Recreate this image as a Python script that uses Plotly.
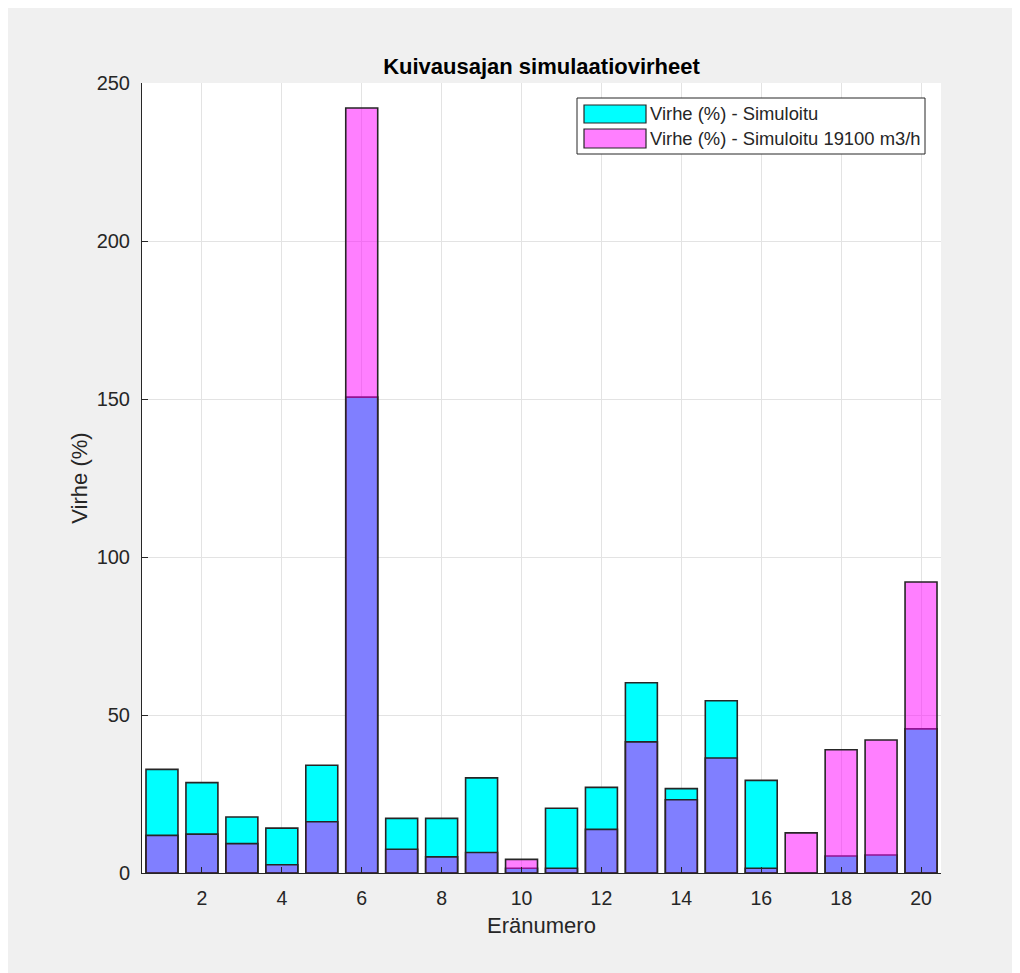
import plotly.graph_objects as go

batches = list(range(1, 21))
err_sim = [32.8, 28.6, 17.7, 14.2, 34.1, 150.6, 17.3, 17.3, 30.1, 1.5,
           20.5, 27.1, 60.2, 26.7, 54.5, 29.3, 0.0, 5.4, 5.7, 45.6]
err_sim_19100 = [11.9, 12.3, 9.3, 2.6, 16.2, 242.1, 7.5, 5.1, 6.5, 4.3,
                 1.5, 13.8, 41.5, 23.2, 36.4, 1.5, 12.7, 39.0, 42.1, 92.1]
x_ticks = [2, 4, 6, 8, 10, 12, 14, 16, 18, 20]
y_ticks = [0, 50, 100, 150, 200, 250]
names = ["Virhe (%) - Simuloitu", "Virhe (%) - Simuloitu 19100 m3/h"]
colors = ["#00FFFF", "rgba(255,0,255,0.5)"]

FONT = "Liberation Sans, Arial, sans-serif"
TXT = "#262626"
EDGE = "#262626"

# page is offset by the 8px body margin; reference plot area at px x 142-941, y 83-873
OFF = 8
W, H = 1020, 973
ml, mt = 142 - OFF, 83 - OFF
pw, ph = 799, 790
mr, mb = W - ml - pw, H - mt - ph


def px_x(p):
    return (p - 142) / pw


def px_y(p):
    return (873 - p) / ph


fig = go.Figure()
for vals, name, col in zip([err_sim, err_sim_19100], names, colors):
    fig.add_trace(go.Bar(
        x=batches, y=vals, name=name,
        marker=dict(color=col, line=dict(color=EDGE, width=1.6)),
        width=0.8,
    ))

# legend box drawn like the MATLAB one (wide colour swatches)
shapes = [
    dict(type="rect", xref="paper", yref="paper",
         x0=px_x(577), x1=px_x(925), y0=px_y(154), y1=px_y(98),
         fillcolor="white", line=dict(color=TXT, width=1), layer="above"),
]
annotations = []
sw_rows = [(105, 123), (129, 148)]
for (t, b), name, col in zip(sw_rows, names, colors):
    shapes.append(dict(type="rect", xref="paper", yref="paper",
                       x0=px_x(584), x1=px_x(646), y0=px_y(b), y1=px_y(t),
                       fillcolor=col, line=dict(color=EDGE, width=1.2), layer="above"))
    annotations.append(dict(xref="paper", yref="paper", x=px_x(648), y=px_y((t + b) / 2),
                            xanchor="left", yanchor="middle", showarrow=False, text=name,
                            font=dict(family=FONT, size=18.4, color=TXT)))

fig.update_layout(
    width=W, height=H,
    margin=dict(l=ml, r=mr, t=mt, b=mb),
    paper_bgcolor="#F0F0F0",
    plot_bgcolor="white",
    barmode="overlay",
    showlegend=False,
    title=dict(text="<b>Kuivausajan simulaatiovirheet</b>", xref="paper", x=0.5, xanchor="center",
               yref="container", y=1 - (66 - OFF) / H, yanchor="middle",
               font=dict(family=FONT, size=22, color="black")),
    font=dict(family=FONT, size=19, color=TXT),
    xaxis=dict(range=[0.5, 20.5], tickvals=x_ticks, ticktext=[str(t) for t in x_ticks],
               showgrid=True, gridcolor="#E3E3E3", gridwidth=1,
               showline=True, linecolor=TXT, linewidth=1, mirror=False,
               ticks="inside", ticklen=6, tickcolor=TXT, ticklabelstandoff=8,
               tickfont=dict(family=FONT, size=19.5, color=TXT), zeroline=False,
               title=dict(text="Eränumero", font=dict(family=FONT, size=22, color=TXT), standoff=9)),
    yaxis=dict(range=[0, 250], tickvals=y_ticks, ticktext=[str(t) for t in y_ticks],
               showgrid=True, gridcolor="#E3E3E3", gridwidth=1,
               showline=True, linecolor=TXT, linewidth=1, mirror=False,
               ticks="inside", ticklen=6, tickcolor=TXT, ticklabelstandoff=7,
               tickfont=dict(family=FONT, size=20, color=TXT), zeroline=False,
               title=dict(text="Virhe (%)", font=dict(family=FONT, size=22, color=TXT), standoff=2)),
    shapes=shapes,
    annotations=annotations,
)

fig.write_html("out.html")
